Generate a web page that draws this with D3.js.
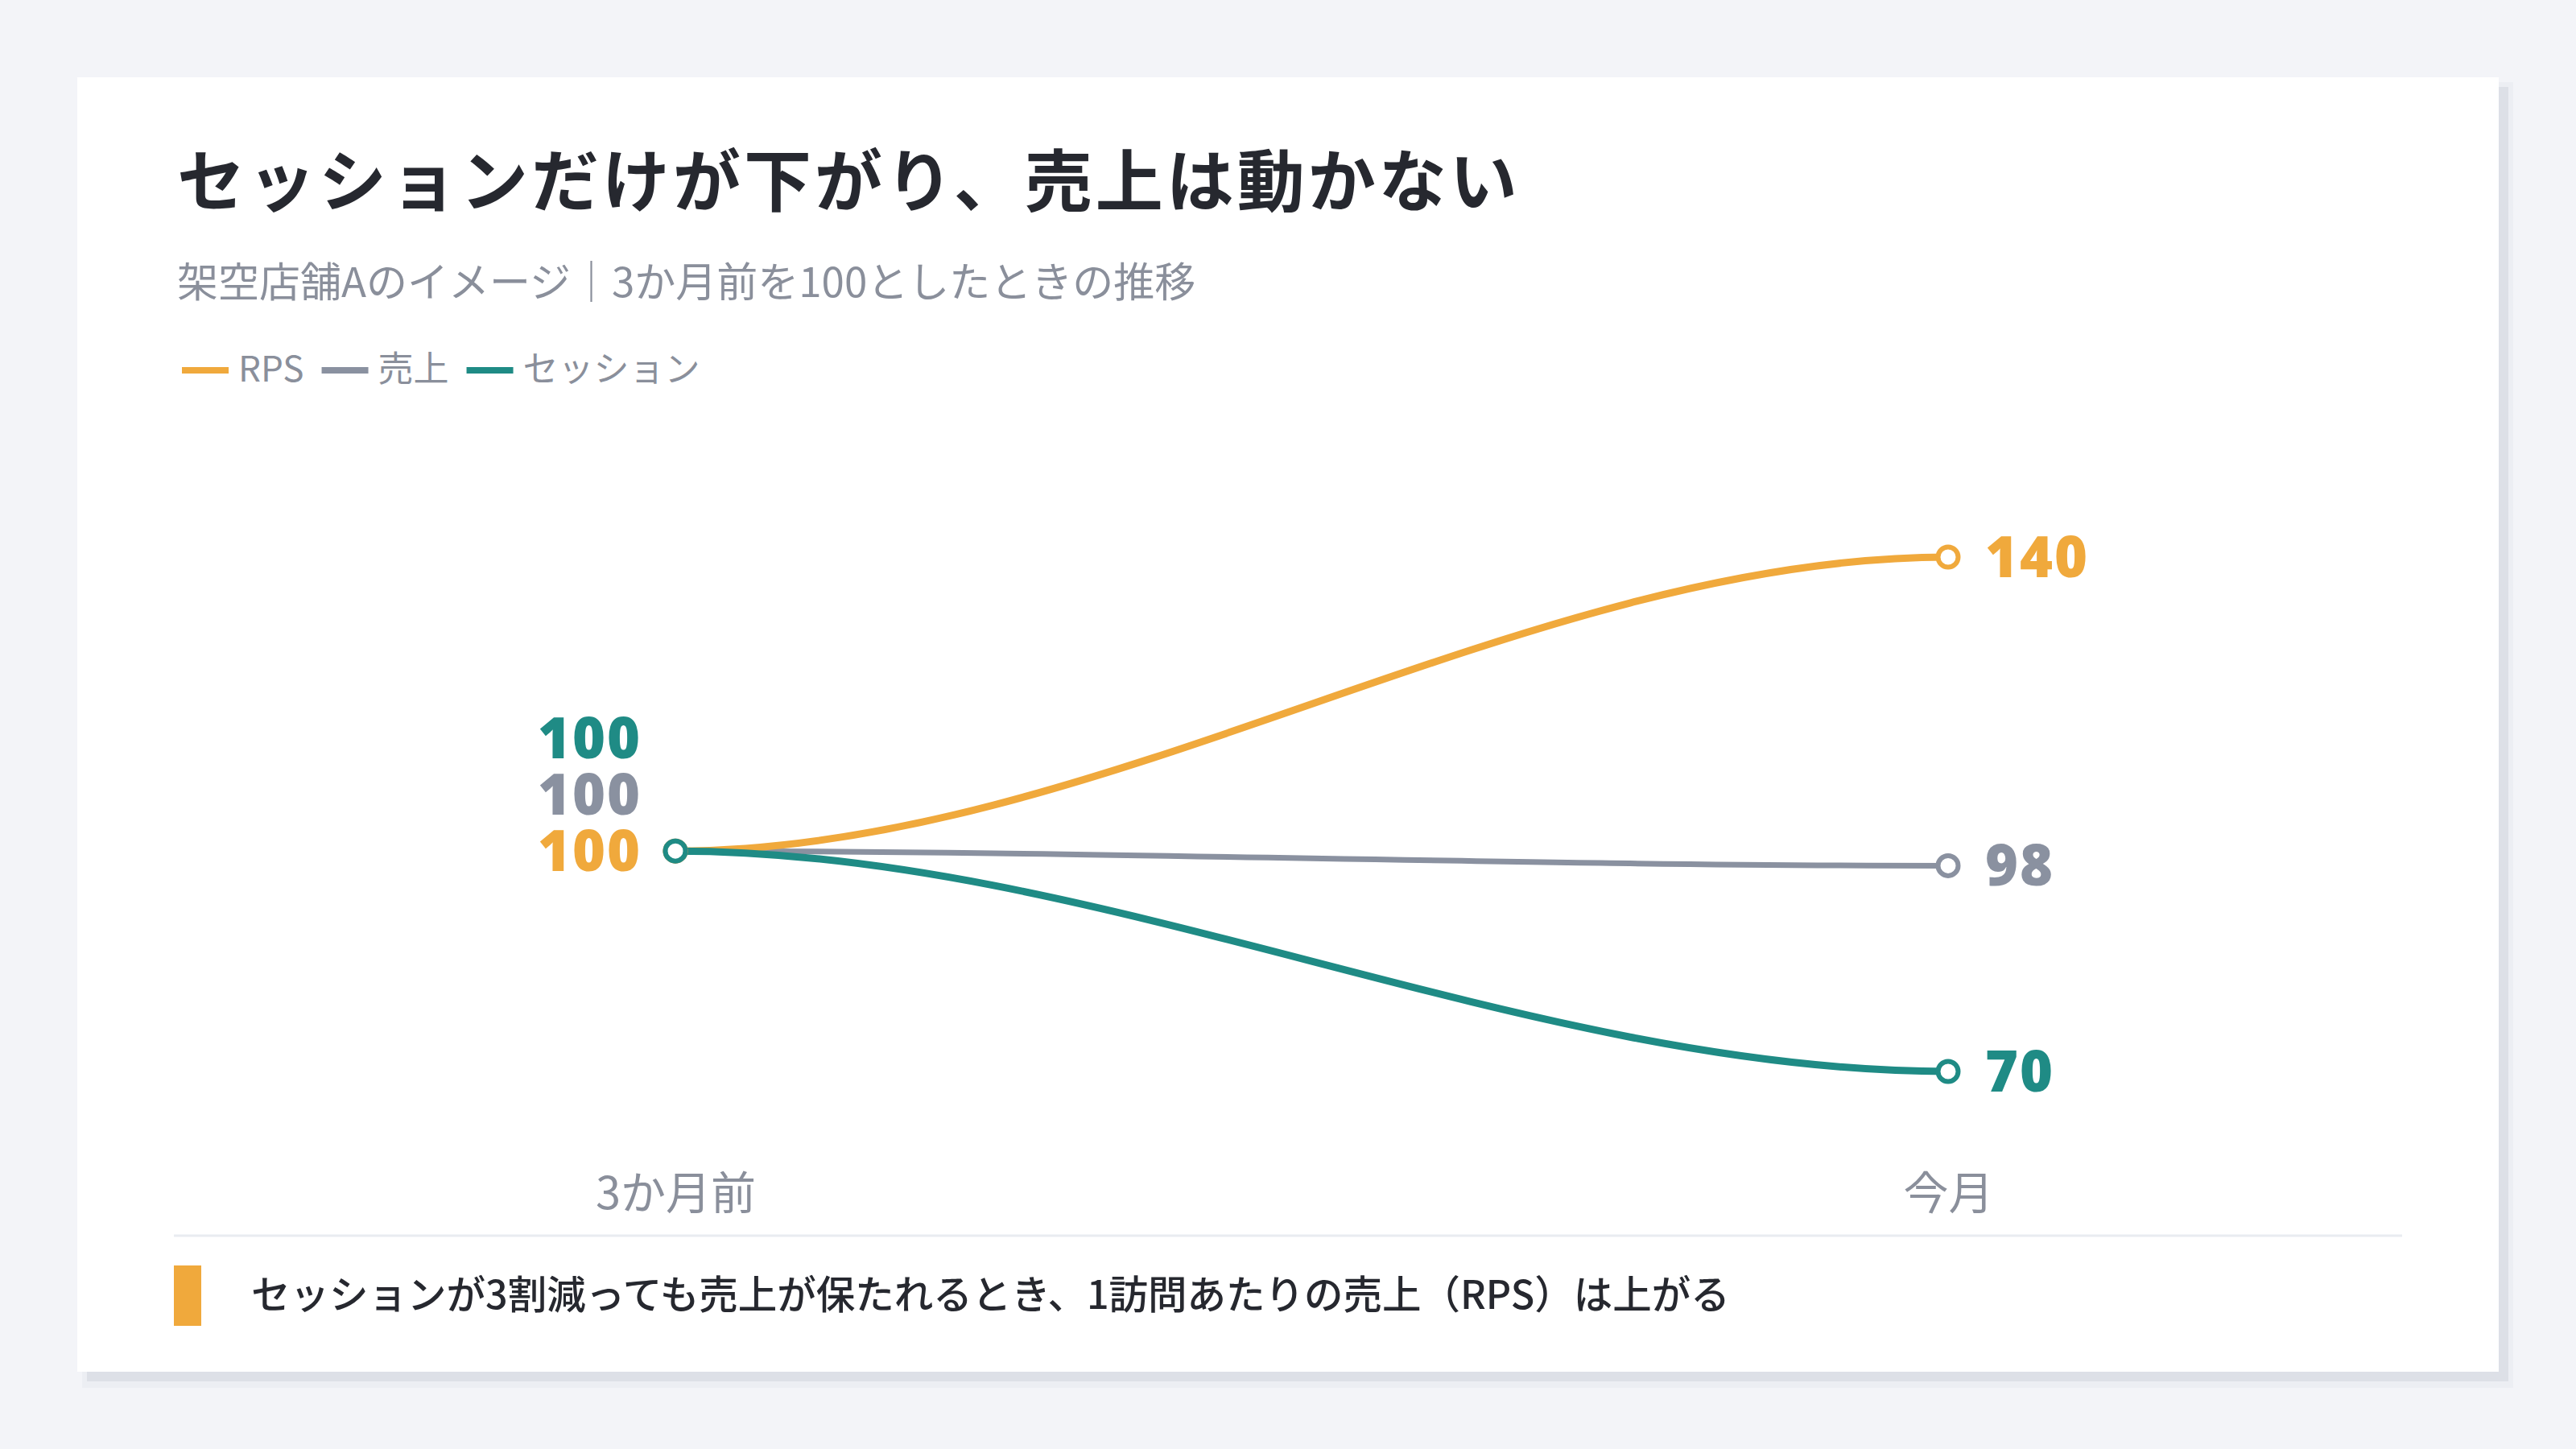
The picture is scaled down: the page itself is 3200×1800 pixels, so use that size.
<!DOCTYPE html>
<html>
<head>
	<meta charset="UTF-8" />
	<title>セッションだけが下がり、売上は動かない</title>
	<script src="https://d3js.org/d3.v7.min.js"></script>
	<style>
		body { margin: 0; background: #f3f4f8; }
		svg { display: block; }
	</style>
</head>
<body>
	<svg id="chart" width="3200" height="1800"></svg>

	<script type="text/javascript">
	// data
	const periods = ["3か月前", "今月"]
	const seriesNames = ["RPS", "売上", "セッション"]
	const rpsValues = [100, 140]
	const salesValues = [100, 98]
	const sessionValues = [100, 70]

	// colours
	const orange = "#f0a93c"
	const gray = "#8a91a0"
	const teal = "#1f8b85"
	const ink = "#26282f"
	const jp = "'Noto Sans CJK JP', 'Noto Sans', sans-serif"
	const num = "'Open Sans', Lato, sans-serif"

	const series = [
		{ name: seriesNames[0], values: rpsValues, color: orange, width: 9 },
		{ name: seriesNames[1], values: salesValues, color: gray, width: 7 },
		{ name: seriesNames[2], values: sessionValues, color: teal, width: 9 }
	]

	// cubic with flat tangents at each point (control points at 1/3 of the gap)
	function curveFlat(context) {
		let x0, y0, first
		return {
			areaStart() {}, areaEnd() {},
			lineStart() { first = true },
			lineEnd() {},
			point(x, y) {
				x = +x; y = +y
				if (first) { context.moveTo(x, y); first = false }
				else {
					const dx = (x - x0) / 3
					context.bezierCurveTo(x0 + dx, y0, x - dx, y, x, y)
				}
				x0 = x; y0 = y
			}
		}
	}

	const svg = d3.select("#chart")

	// card + hard shadow
	svg.append("rect").attr("x", 102).attr("y", 102).attr("width", 3020).attr("height", 1622).attr("fill", "#eceef3")
	svg.append("rect").attr("x", 108).attr("y", 108).attr("width", 3008).attr("height", 1608).attr("fill", "#dde0e7")
	svg.append("rect").attr("x", 96).attr("y", 96).attr("width", 3008).attr("height", 1608).attr("fill", "#ffffff")

	// title / subtitle
	svg.append("text").attr("x", 220).attr("y", 256)
		.style("font-family", jp).style("font-weight", 700).style("font-size", "84px")
		.style("letter-spacing", "4px").style("fill", ink)
		.text("セッションだけが下がり、売上は動かない")
	svg.append("text").attr("x", 220).attr("y", 369)
		.style("font-family", jp).style("font-size", "51px").style("fill", "#8a8f9b")
		.text("架空店舗Aのイメージ｜3か月前を100としたときの推移")

	// legend
	let lx = 226
	series.forEach(s => {
		svg.append("rect").attr("x", lx).attr("y", 456).attr("width", 58).attr("height", 8).attr("fill", s.color)
		const t = svg.append("text").attr("x", lx + 70).attr("y", 474)
			.style("font-family", jp).style("font-size", "44px").style("fill", "#8a8f9b")
			.text(s.name)
		lx += 70 + t.node().getComputedTextLength() + 22
	})

	// scales
	const xScale = d3.scalePoint().domain(periods).range([839, 2420])
	const yScale = d3.scaleLinear().domain([70, 140]).range([1331, 692])

	// x axis labels
	const xAxis = d3.axisBottom(xScale).tickSize(0).tickPadding(0)
	const xg = svg.append("g").attr("transform", "translate(0,1502)").call(xAxis)
	xg.select(".domain").remove()
	xg.selectAll("text").attr("y", 0).attr("dy", null)
		.style("font-family", jp).style("font-size", "56px").style("fill", "#8a8f9b")

	// separator
	svg.append("line").attr("x1", 216).attr("x2", 2984).attr("y1", 1535).attr("y2", 1535)
		.style("stroke", "#e9ecf1").style("stroke-width", "3px")

	// lines
	const line = d3.line()
		.x((d, i) => xScale(periods[i]))
		.y(d => yScale(d))
		.curve(curveFlat)

	const drawOrder = [series[1], series[0], series[2]]
	drawOrder.forEach(s => {
		svg.append("path")
			.attr("d", line(s.values))
			.style("fill", "none")
			.style("stroke", s.color)
			.style("stroke-width", s.width + "px")
			.style("stroke-linecap", "round")
	})
	drawOrder.forEach(s => {
		s.values.forEach((v, i) => {
			svg.append("circle")
				.attr("cx", xScale(periods[i])).attr("cy", yScale(v)).attr("r", 12.5)
				.style("fill", "#ffffff").style("stroke", s.color).style("stroke-width", "6px")
		})
	})

	// start labels, stacked upward
	series.forEach((s, i) => {
		svg.append("text")
			.attr("x", xScale(periods[0]) - 42)
			.attr("y", yScale(s.values[0]) + 25 - i * 70)
			.attr("text-anchor", "end")
			.style("font-family", num).style("font-weight", 800).style("font-size", "70px")
			.style("letter-spacing", "2px").style("fill", s.color)
			.text(s.values[0])
	})
	// end labels
	series.forEach(s => {
		svg.append("text")
			.attr("x", xScale(periods[1]) + 46)
			.attr("y", yScale(s.values[1]) + 25)
			.style("font-family", num).style("font-weight", 800).style("font-size", "70px")
			.style("letter-spacing", "2px").style("fill", s.color)
			.text(s.values[1])
	})

	// footer note
	svg.append("rect").attr("x", 216).attr("y", 1572).attr("width", 34).attr("height", 75).attr("fill", orange)
	svg.append("text").attr("x", 312).attr("y", 1626)
		.style("font-family", jp).style("font-weight", 500).style("font-size", "48.5px").style("fill", ink)
		.text("セッションが3割減っても売上が保たれるとき、1訪問あたりの売上（RPS）は上がる")
	</script>
</body>
</html>
